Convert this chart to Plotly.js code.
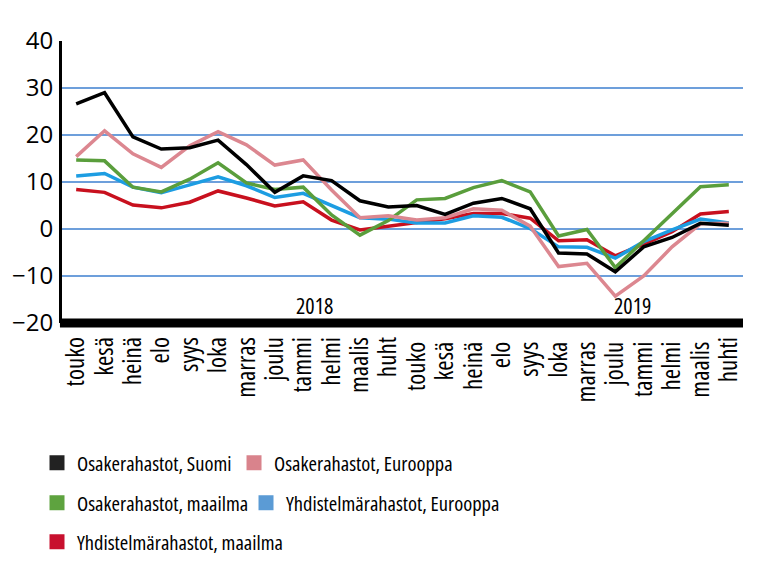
<!DOCTYPE html>
<html>
<head>
<meta charset="utf-8">
<script src="https://cdn.plot.ly/plotly-3.0.1.min.js"></script>
<style>
html,body{margin:0;padding:0;background:#fff;}
#chart{width:770px;height:581px;}
text { font-stretch: 75%; }
.ytick text, g.ytick text { font-stretch: 100%; }
</style>
</head>
<body>
<div id="chart"></div>
<script>
var months = ["touko","kesä","heinä","elo","syys","loka","marras","joulu","tammi","helmi","maalis","huht",
              "touko ","kesä ","heinä ","elo ","syys ","loka ","marras ","joulu ","tammi ","helmi ","maalis ","huhti"];

var osakeSuomi    = [26.6, 29.0, 19.6, 17.0, 17.3, 18.9, 13.7, 7.8, 11.3, 10.3, 6.0, 4.7, 5.0, 3.1, 5.5, 6.5, 4.3, -5.1, -5.3, -9.1, -3.8, -1.8, 1.2, 0.8];
var osakeEurooppa = [15.4, 20.9, 16.0, 13.1, 17.7, 20.7, 17.9, 13.6, 14.7, 8.3, 2.4, 2.8, 1.9, 2.4, 4.3, 4.0, 0.6, -8.0, -7.3, -14.3, -10.0, -3.8, 1.1, 1.2];
var osakeMaailma  = [14.7, 14.5, 8.9, 7.9, 10.6, 14.1, 9.8, 8.4, 8.9, 3.0, -1.3, 1.8, 6.2, 6.5, 8.8, 10.3, 7.9, -1.5, -0.1, -8.2, -2.5, 3.2, 9.0, 9.4];
var yhdEurooppa   = [11.3, 11.8, 8.9, 7.7, 9.4, 11.1, 9.2, 6.7, 7.6, 4.9, 2.4, 2.1, 1.3, 1.3, 2.8, 2.5, 0.1, -3.8, -3.9, -6.2, -2.7, -0.2, 2.1, 1.3];
var yhdMaailma    = [8.4, 7.8, 5.1, 4.5, 5.7, 8.1, 6.6, 4.9, 5.8, 1.9, -0.2, 0.6, 1.4, 2.2, 3.3, 3.3, 2.3, -2.5, -2.3, -5.7, -3.2, -0.6, 3.2, 3.7];

var seriesNames = ["Osakerahastot, Suomi","Osakerahastot, Eurooppa","Osakerahastot, maailma","Yhdistelmärahastot, Eurooppa","Yhdistelmärahastot, maailma"];
var seriesData = [osakeSuomi, osakeEurooppa, osakeMaailma, yhdEurooppa, yhdMaailma];
var lineColors = ["#000000","#dc8790","#5a9e3c","#1d9de2","#c8101e"];
var legendColors = ["#222222","#d9838c","#5ea33f","#5b9bd5","#c8102e"];
var legendIds = ["legend","legend2","legend3","legend4","legend5"];
var yearLabels = ["2018","2019"];

var NARROW = "Open Sans, Roboto Condensed, sans-serif";

var traces = [];
var drawOrder = [4,3,2,1,0];
drawOrder.forEach(function(i){
  traces.push({
    x: months, y: seriesData[i], type: "scatter", mode: "lines",
    line: {color: lineColors[i], width: 3.5}, showlegend: false, hoverinfo: "skip"
  });
});
seriesNames.forEach(function(n, i){
  traces.push({
    x: [null], y: [null], type: "scatter", mode: "markers", name: n,
    marker: {symbol: "square", size: 15, color: legendColors[i]},
    legend: legendIds[i], showlegend: true
  });
});

var legendBase = {
  orientation: "h", xanchor: "left", yanchor: "middle",
  font: {family: NARROW, size: 20.5, color: "#000"}, bgcolor: "rgba(0,0,0,0)",
  itemwidth: 30, tracegroupgap: 0
};
function leg(x, y){ return Object.assign({}, legendBase, {x: x, y: y}); }

var layout = {
  width: 770, height: 581,
  margin: {l: 62, r: 27, t: 41, b: 258},
  paper_bgcolor: "#fff", plot_bgcolor: "#fff",
  showlegend: true,
  xaxis: {
    type: "category", range: [-0.5, 23.5], showgrid: false, zeroline: false, showline: false,
    tickmode: "linear", tick0: 0, dtick: 1,
    ticks: "", tickangle: -90, ticklabelstandoff: 8,
    tickfont: {family: NARROW, size: 25, color: "#000"}, fixedrange: true
  },
  yaxis: {
    range: [-20, 40], dtick: 10, tick0: 0, showgrid: true, gridcolor: "#6d9fdb", gridwidth: 1.5,
    zeroline: true, zerolinecolor: "#6d9fdb", zerolinewidth: 1.5,
    showline: true, linecolor: "#000", linewidth: 3, ticks: "", ticklabelstandoff: 1,
    tickfont: {family: "Open Sans, sans-serif", size: 24, color: "#000"}, fixedrange: true
  },
  shapes: [
    {type: "line", xref: "paper", yref: "paper", x0: -0.003, x1: 1, y0: 0, y1: 0,
     line: {color: "#000", width: 9}, layer: "above"}
  ],
  annotations: [
    {text: yearLabels[0], xref: "paper", yref: "y", x: 0.3715, y: -16.2, showarrow: false,
     font: {family: NARROW, size: 22, color: "#000"}},
    {text: yearLabels[1], xref: "paper", yref: "y", x: 0.868, y: -16.2, showarrow: false,
     font: {family: NARROW, size: 22, color: "#000"}}
  ],
  legend:  leg(-0.0367, -0.496),
  legend2: leg(0.2526, -0.496),
  legend3: leg(-0.0367, -0.638),
  legend4: leg(0.2702, -0.638),
  legend5: leg(-0.0367, -0.776)
};

Plotly.newPlot("chart", traces, layout, {displayModeBar: false, staticPlot: true});
</script>
</body>
</html>
